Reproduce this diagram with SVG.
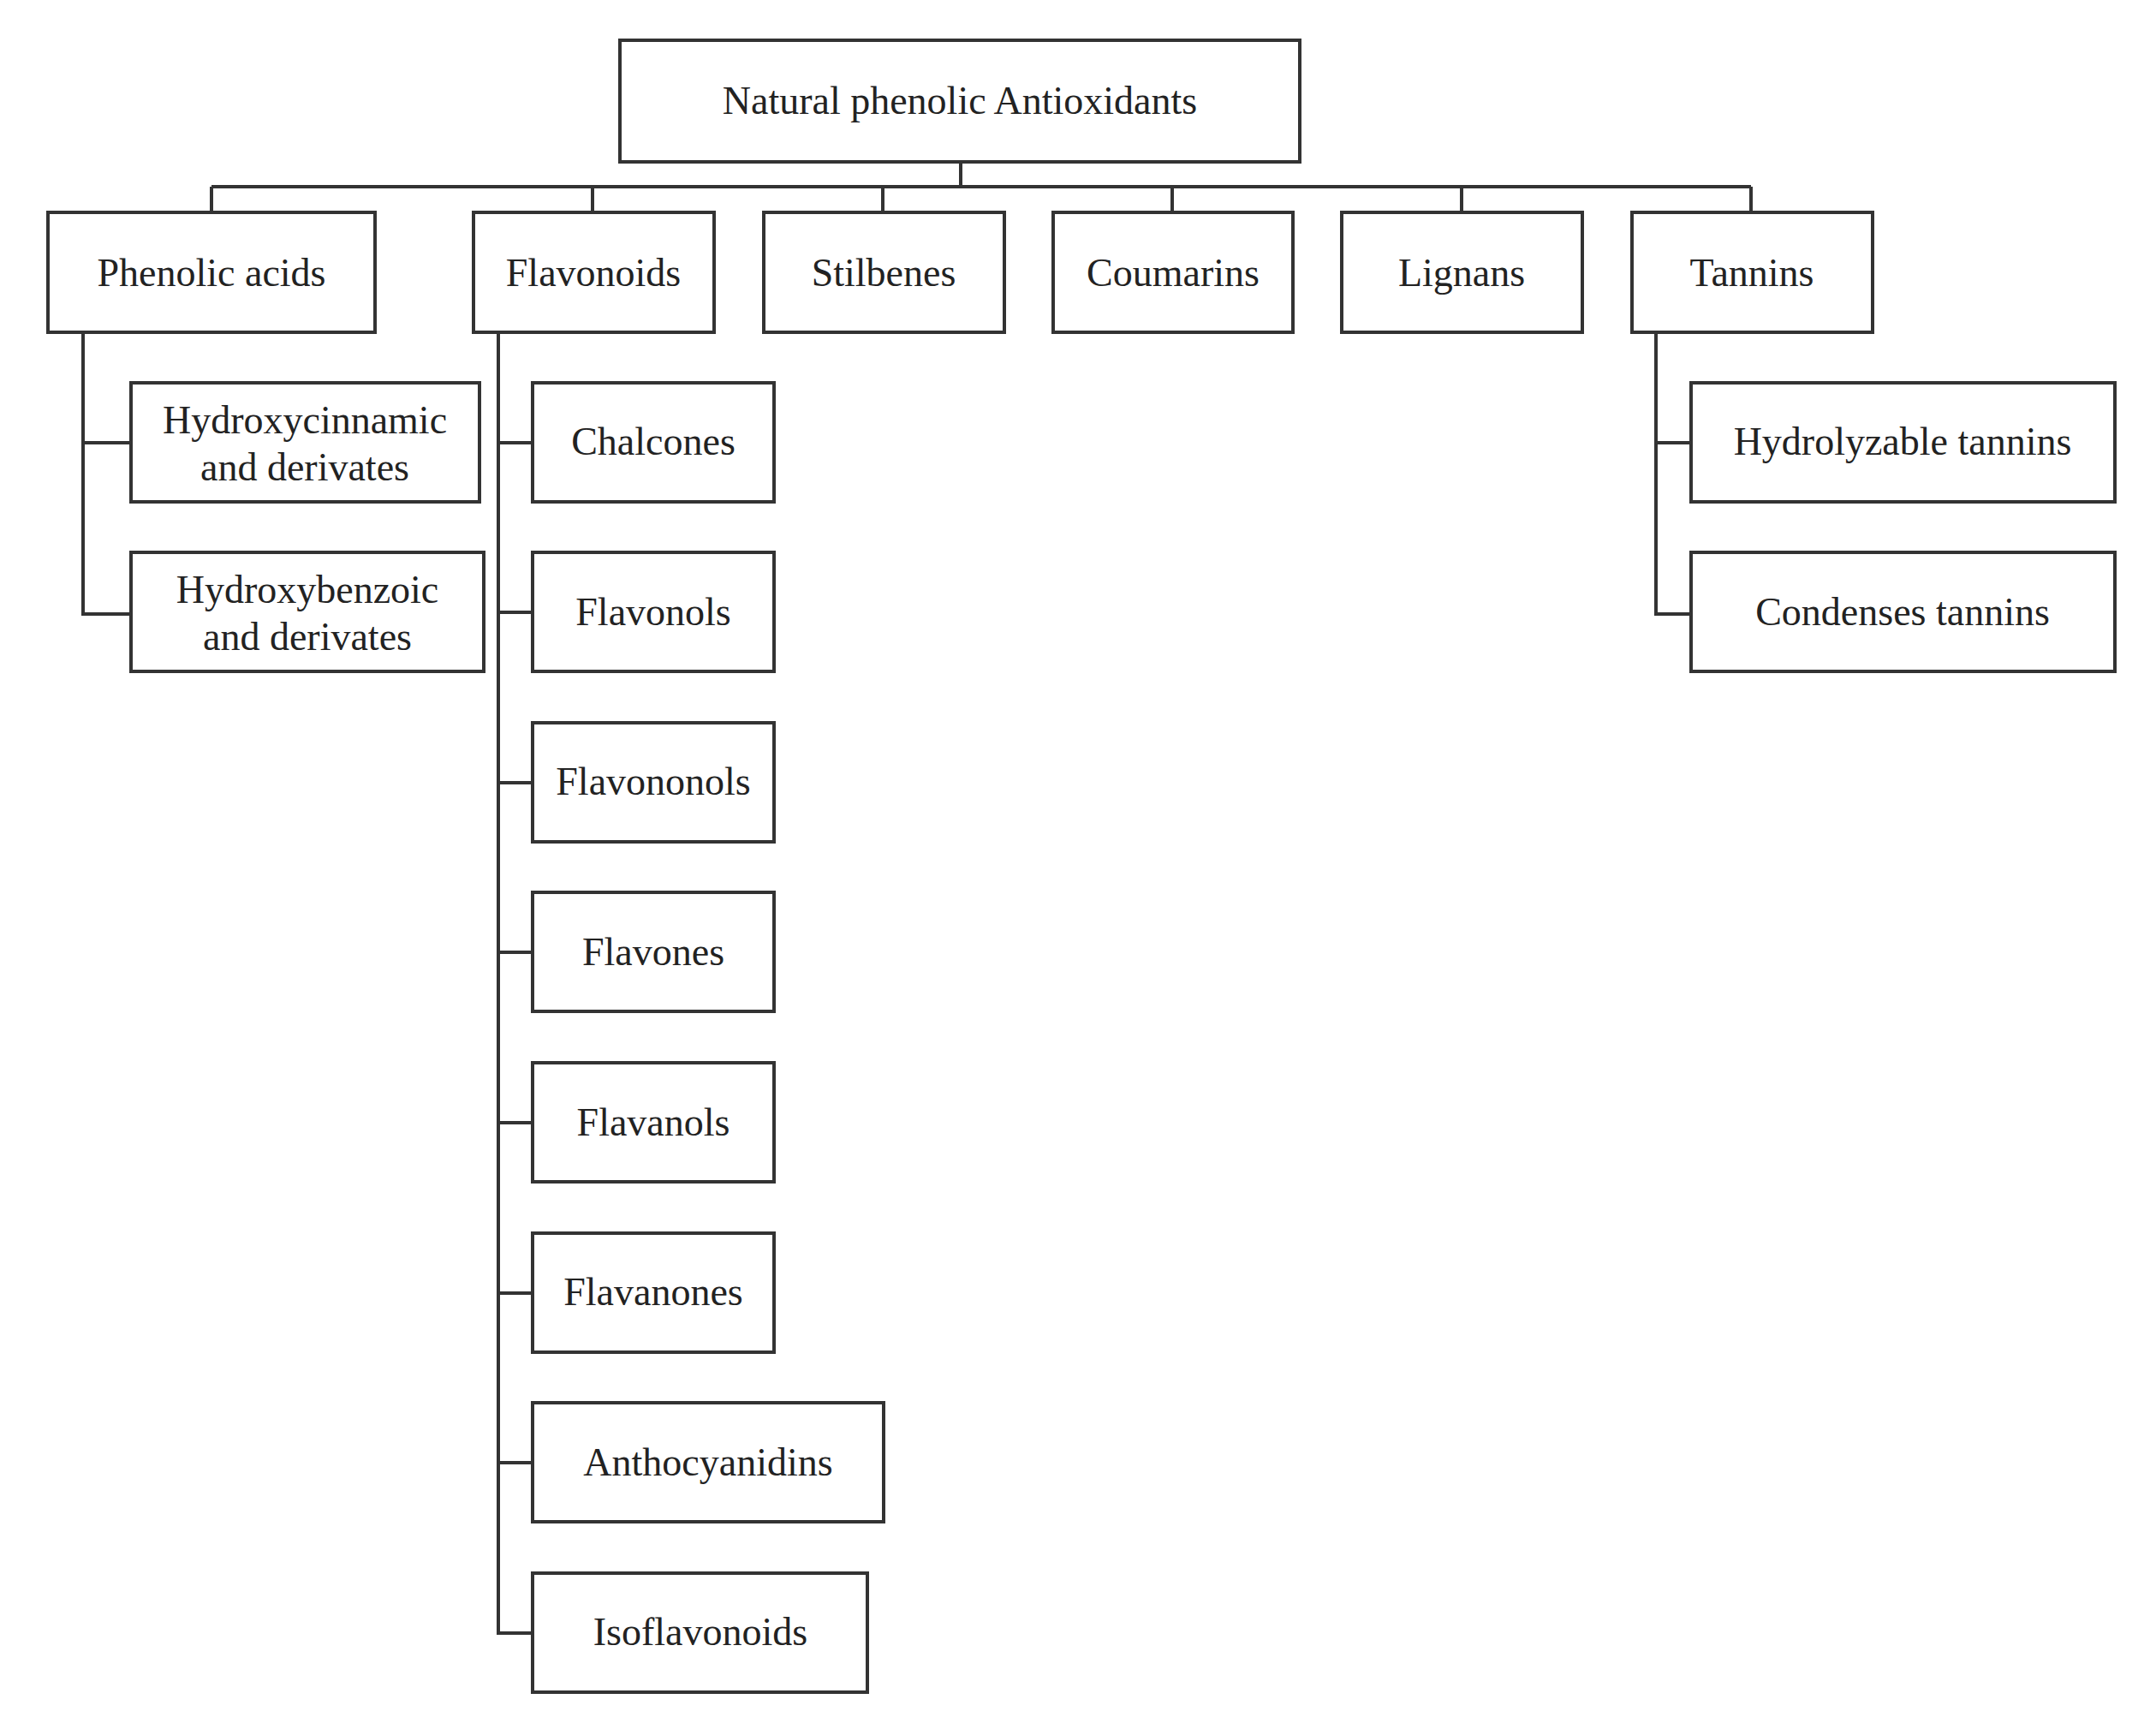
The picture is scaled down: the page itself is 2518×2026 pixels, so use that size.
<svg xmlns="http://www.w3.org/2000/svg" width="2518" height="2026" viewBox="0 0 2518 2026">
<style>
rect{fill:#fff;stroke:#333;stroke-width:4}
text{font-family:"Liberation Serif",serif;font-size:46px;fill:#222;text-anchor:middle;dominant-baseline:central}
.c{fill:none;stroke:#333;stroke-width:4}
</style>
<rect x="0" y="0" width="2518" height="2026" style="stroke:none"/>
<g id="connectors">
<path class="c" d="M1122 189V218M247 218H2045M247 218V248M692 218V248M1031 218V248M1369 218V248M1707 218V248M2045 218V248"/>
<path class="c" d="M97 388V717H153M97 517H153"/>
<path class="c" d="M582 388V1907H622M582 517H622M582 715H622M582 914H622M582 1112H622M582 1311H622M582 1510H622M582 1708H622"/>
<path class="c" d="M1934 388V717H1975M1934 517H1975"/>
</g>
<g id="root"><rect x="724" y="47" width="794" height="142"/><text x="1121" y="117">Natural phenolic Antioxidants</text></g>
<g id="phenolic"><rect x="56" y="248" width="382" height="140"/><text x="247" y="318">Phenolic acids</text></g>
<g id="flavonoids"><rect x="553" y="248" width="281" height="140"/><text x="693" y="318">Flavonoids</text></g>
<g id="stilbenes"><rect x="892" y="248" width="281" height="140"/><text x="1032" y="318">Stilbenes</text></g>
<g id="coumarins"><rect x="1230" y="248" width="280" height="140"/><text x="1370" y="318">Coumarins</text></g>
<g id="lignans"><rect x="1567" y="248" width="281" height="140"/><text x="1707" y="318">Lignans</text></g>
<g id="tannins"><rect x="1906" y="248" width="281" height="140"/><text x="2046" y="318">Tannins</text></g>
<g id="hydroxycinnamic"><rect x="153" y="447" width="407" height="139"/><text x="356" y="490">Hydroxycinnamic</text><text x="356" y="545">and derivates</text></g>
<g id="hydroxybenzoic"><rect x="153" y="645" width="412" height="139"/><text x="359" y="688">Hydroxybenzoic</text><text x="359" y="743">and derivates</text></g>
<g id="chalcones"><rect x="622" y="447" width="282" height="139"/><text x="763" y="515">Chalcones</text></g>
<g id="flavonols"><rect x="622" y="645" width="282" height="139"/><text x="763" y="714">Flavonols</text></g>
<g id="flavononols"><rect x="622" y="844" width="282" height="139"/><text x="763" y="912">Flavononols</text></g>
<g id="flavones"><rect x="622" y="1042" width="282" height="139"/><text x="763" y="1111">Flavones</text></g>
<g id="flavanols"><rect x="622" y="1241" width="282" height="139"/><text x="763" y="1310">Flavanols</text></g>
<g id="flavanones"><rect x="622" y="1440" width="282" height="139"/><text x="763" y="1508">Flavanones</text></g>
<g id="anthocyanidins"><rect x="622" y="1638" width="410" height="139"/><text x="827" y="1707">Anthocyanidins</text></g>
<g id="isoflavonoids"><rect x="622" y="1837" width="391" height="139"/><text x="818" y="1905">Isoflavonoids</text></g>
<g id="hydrolyzable"><rect x="1975" y="447" width="495" height="139"/><text x="2222" y="515">Hydrolyzable tannins</text></g>
<g id="condenses"><rect x="1975" y="645" width="495" height="139"/><text x="2222" y="714">Condenses tannins</text></g>
</svg>
